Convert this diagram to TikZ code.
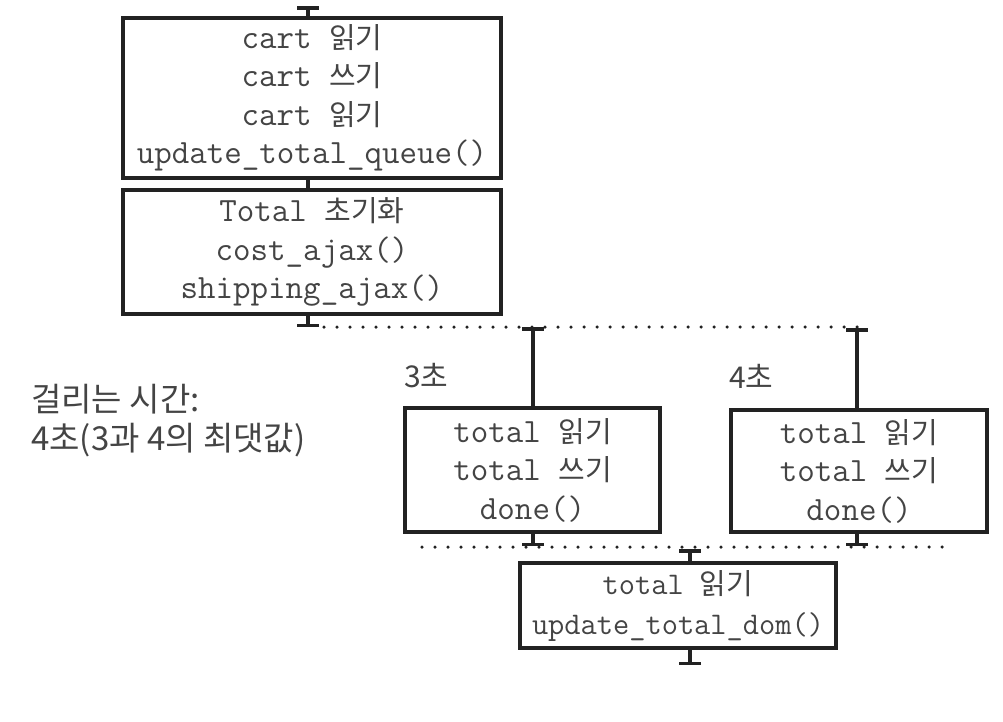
\documentclass[tikz,border=0pt]{standalone}
\usepackage{fontspec}
\newfontfamily\kr{Noto Sans CJK KR}
\usetikzlibrary{arrows.meta}
\definecolor{ink}{HTML}{222222}
\definecolor{txt}{HTML}{444444}
\tikzset{
  blk/.style={draw=ink, line width=3.5pt, fill=white, text=txt, align=center,
    inner sep=0pt, font=\ttfamily\fontsize{34}{38.5}\selectfont},
  conn/.style={draw=ink, line width=3.5pt, {Bar[width=22pt,line width=3.5pt]}-},
  wire/.style={draw=ink, line width=3.5pt},
  dots/.style={draw=ink, line width=3.5pt, line cap=round, dash pattern=on 0pt off 13pt},
  lbl/.style={text=txt, font=\kr\fontsize{30}{40}\selectfont, inner sep=0pt, anchor=west, align=left},
  note/.style={lbl, font=\kr\fontsize{33}{42}\selectfont}
}
\newcommand{\hg}[1]{{\kr\fontsize{29}{38.5}\selectfont #1}}
\begin{document}
\begin{tikzpicture}[x=1pt,y=-1pt]
\useasboundingbox (0,0) rectangle (1003,721);
% boxes
\node[blk, minimum width=378pt, minimum height=160pt] (b1) at (312,98)
  {cart \hg{읽기}\\cart \hg{쓰기}\\cart \hg{읽기}\\update\_total\_queue()};
\node[blk, minimum width=378pt, minimum height=124pt] (b2) at (312,252)
  {Total \hg{초기화}\\cost\_ajax()\\shipping\_ajax()};
\node[blk, minimum width=255pt, minimum height=124pt] (b3) at (532.5,470)
  {total \hg{읽기}\\total \hg{쓰기}\\done()};
\node[blk, minimum width=256pt, minimum height=122pt] (b4) at (859,471)
  {total \hg{읽기}\\total \hg{쓰기}\\done()};
\node[blk, minimum width=316pt, minimum height=85pt, font=\ttfamily\fontsize{31.5}{40}\selectfont] (b5) at (678,605.5)
  {total \hg{읽기}\\update\_total\_dom()};
% coordinates
\coordinate (t0) at (308,6);
\coordinate (t1) at (308,327);
\coordinate (f1) at (533,327);
\coordinate (f2) at (857,328);
\coordinate (j1) at (533,546);
\coordinate (j2) at (857,546);
\coordinate (j3) at (690,549);
\coordinate (t5) at (690,665);
\coordinate (d1s) at (324,327);
\coordinate (d1e) at (865,327);
\coordinate (d2s) at (422,547);
\coordinate (d2e) at (945,547);
% connectors
\draw[conn] (t0) -- (b1.north -| t0);
\draw[wire] (b1.south -| t0) -- (b2.north -| t0);
\draw[conn] (t1) -- (b2.south -| t1);
\draw[conn] (f1) -- (b3.north -| f1);
\draw[conn] (f2) -- (b4.north -| f2);
\draw[conn] (j1) -- (b3.south -| j1);
\draw[conn] (j2) -- (b4.south -| j2);
\draw[conn] (j3) -- (b5.north -| j3);
\draw[conn] (t5) -- (b5.south -| t5);
\draw[dots] (d1s) -- (d1e);
\draw[dots] (d2s) -- (d2e);
% labels
\node[lbl] (l3) at (404,376) {3초};
\node[lbl] (l4) at (729,376) {4초};
\node[note] (n1) at (31,399) {걸리는 시간:};
\node[note] (n2) at (31,440) {4초(3과 4의 최댓값)};
\end{tikzpicture}
\end{document}
